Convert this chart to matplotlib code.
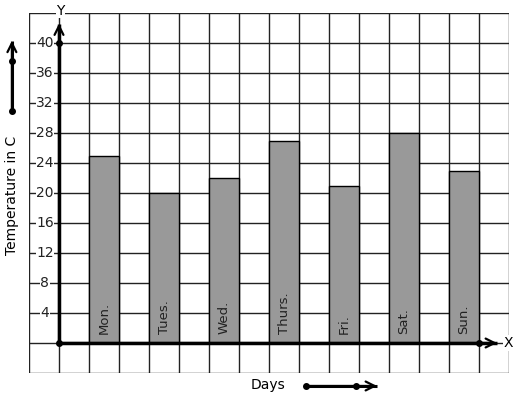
import matplotlib.pyplot as plt

# data
days = ["Mon.", "Tues.", "Wed.", "Thurs.", "Fri.", "Sat.", "Sun."]
temps = [25, 20, 22, 27, 21, 28, 23]
yticks = [4, 8, 12, 16, 20, 24, 28, 32, 36, 40]

W, H = 517, 399
fig = plt.figure(figsize=(W / 100, H / 100), dpi=100)
# axes covers the grid area (in pixels: x 29..509, y 13..373)
ax = fig.add_axes([29 / W, (H - 373) / H, 480 / W, 360 / H])
ax.set_xlim(-1, 15)
ax.set_ylim(-4, 44)

# grid
for gx in range(-1, 16):
    ax.axvline(gx, color="#222222", lw=1, zorder=1)
for gy in range(-4, 45, 4):
    ax.axhline(gy, color="#222222", lw=1, zorder=1)
ax.set_xticks([])
ax.set_yticks([])
for s in ax.spines.values():
    s.set_visible(False)

# bars
xpos = [1.5 + 2 * i for i in range(len(days))]
ax.bar(xpos, temps, width=1, color="#999999", edgecolor="black", lw=1, zorder=2)
for x, d in zip(xpos, days):
    ax.text(x, 1.2, d, rotation=90, ha="center", va="bottom", fontsize=9.5, color="#222222", zorder=3)


def arrow(x0, y0, x1, y1, lw):
    ax.plot([x0, x1], [y0, y1], color="black", lw=lw, zorder=4, clip_on=False,
            solid_capstyle="butt")
    ax.annotate("", xy=(x1, y1), xytext=(x0, y0),
                arrowprops=dict(arrowstyle="->", lw=1.6, color="black", mutation_scale=16,
                                shrinkA=0, shrinkB=0),
                zorder=4, annotation_clip=False)


# axes with arrows
arrow(0, 0, 0, 42.6, 2.5)
arrow(0, 0, 14.6, 0, 2.5)
ax.plot([0, 0, 14], [0, 40, 0], "o", color="black", ms=4, zorder=5, clip_on=False)
ax.text(0.05, 44.3, "Y", ha="center", va="center", fontsize=10,
        bbox=dict(fc="white", ec="none", pad=0.5), zorder=5, clip_on=False)
ax.text(14.97, 0, "X", ha="center", va="center", fontsize=10,
        bbox=dict(fc="white", ec="none", pad=0.5), zorder=5, clip_on=False)

# tick labels
for t in yticks:
    ax.text(-0.47, t, str(t), ha="center", va="center", fontsize=10, color="#222222",
            bbox=dict(fc="white", ec="none", pad=0.3), zorder=3)

# axis titles with decorative arrows
ax.text(-1.55, 19.7, "Temperature in C", rotation=90, ha="center", va="center", fontsize=10,
        clip_on=False)
arrow(-1.57, 31.0, -1.57, 40.3, 2.2)
ax.plot([-1.57, -1.57], [31.0, 37.6], "o", color="black", ms=4, clip_on=False)

ax.text(6.97, -5.6, "Days", ha="center", va="center", fontsize=10, clip_on=False)
arrow(8.23, -5.73, 10.6, -5.73, 2.2)
ax.plot([8.23, 9.9], [-5.73, -5.73], "o", color="black", ms=4, clip_on=False)

fig.savefig("out.png", dpi=100)
